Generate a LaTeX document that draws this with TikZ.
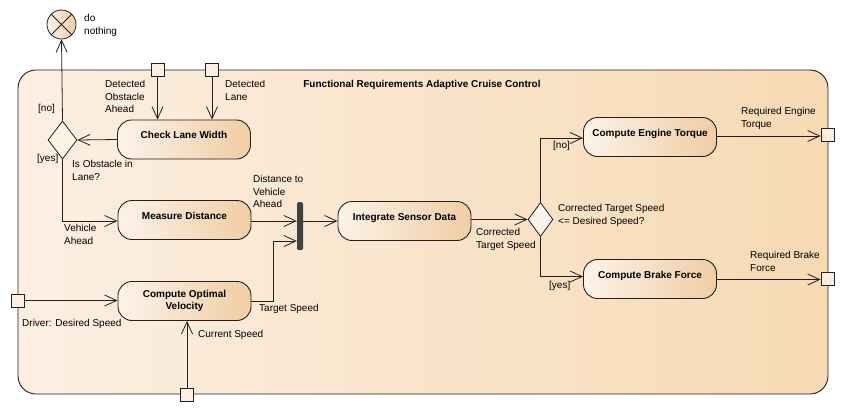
\documentclass[tikz,border=0pt]{standalone}
\usepackage{fontspec}
\setmainfont{Liberation Sans}
\usetikzlibrary{arrows.meta,shapes.geometric,positioning}
\definecolor{contL}{HTML}{FCEFE2}
\definecolor{contR}{HTML}{F7DAB4}
\definecolor{actL}{HTML}{FCF3E9}
\definecolor{actR}{HTML}{F0CDA4}
\definecolor{edge}{HTML}{202020}
\tikzset{
  lbl/.style={font=\fontsize{10}{12.6}\selectfont, align=left, inner sep=0pt, anchor=north west},
  act/.style={draw=edge, line width=0.9pt, rounded corners=14pt, left color=actL, right color=actR,
     minimum width=133pt, minimum height=39pt, align=center, font=\fontsize{10}{12.6}\selectfont\bfseries, inner sep=1pt},
  oneline/.style={text height=8pt, text depth=10pt},
  pin/.style={draw=edge, line width=0.8pt, fill=contL, minimum size=13pt, inner sep=0pt},
  dec/.style={draw=edge, line width=0.8pt, diamond, fill=actL, inner sep=0pt, minimum width=29pt, minimum height=38pt},
  flow/.style={draw=edge, line width=0.8pt, -{Straight Barb[length=12pt,width=11pt,line width=0.8pt]}},
}
\begin{document}
\begin{tikzpicture}[x=1pt,y=-1pt]
\useasboundingbox (0,0) rectangle (845,413);
\fill[white] (0,0) rectangle (845,413);
% container
\draw[draw=edge, line width=0.9pt, rounded corners=18pt, left color=contL, right color=contR] (18,70) rectangle (828,394);
\node[font=\fontsize{10}{12}\selectfont\bfseries, inner sep=0pt] (title) at (422,85) {Functional Requirements Adaptive Cruise Control};

% flow final
\node[draw=edge, line width=0.8pt, circle, minimum size=29pt, inner sep=0pt, left color=actL, right color=actR] (final) at (61.5,24.5) {};
\draw[edge, line width=0.8pt] (final.north west) -- (final.south east) (final.north east) -- (final.south west);
\node[lbl] (fl) at (84,14.5) {do\\nothing};

% actions
\node[act, oneline] (check) at (184,139.5) {Check Lane Width};
\node[act, oneline] (measure) at (184.5,220) {Measure Distance};
\node[act] (optimal) at (184.5,301) {Compute Optimal\\Velocity};
\node[act, oneline] (integrate) at (404.5,221) {Integrate Sensor Data};
\node[act, oneline] (torque) at (650,137) {Compute Engine Torque};
\node[act, oneline] (brake) at (650,279) {Compute Brake Force};

% decisions
\node[dec] (d1) at (62.5,140) {};
\node[dec, minimum width=25pt, minimum height=34pt] (d2) at (540.5,219.5) {};

% fork bar
\node[draw=none, fill=edge!85, rounded corners=1.5pt, minimum width=6pt, minimum height=48pt, inner sep=0pt] (bar) at (300,226) {};

% pins
\node[pin] (pinObs) at (157.5,70) {};
\node[pin] (pinLane) at (212,70) {};
\node[pin] (pinDriver) at (17.5,300.5) {};
\node[pin] (pinSpeed) at (187,395) {};
\node[pin] (pinTorque) at (827.5,135) {};
\node[pin] (pinBrake) at (827.5,279) {};

% flows
\draw[flow] (pinObs.south) -- (pinObs.south |- check.north);
\draw[flow] (pinLane.south) -- (pinLane.south |- check.north);
\draw[flow] (check.west) -- (d1.east);
\draw[flow] (d1.north) -- (final.south);
\coordinate (c1) at (62.5,221);
\draw[flow] (d1.south) -- (c1) -- (measure.west |- c1);
\draw[flow] (measure.east |- c1) -- (bar.west |- c1);
\coordinate (c2) at (273,301);
\coordinate (c3) at (273,241);
\draw[flow] (optimal.east |- c2) -- (c2) -- (c3) -- (bar.west |- c3);
\draw[flow] (bar.east |- c1) -- (integrate.west |- c1);
\draw[flow] (integrate.east |- d2.west) -- (d2.west);
\coordinate (c4) at (540.5,138);
\draw[flow] (d2.north) -- (c4) -- (torque.west |- c4);
\coordinate (c5) at (540.5,276.5);
\draw[flow] (d2.south) -- (c5) -- (brake.west |- c5);
\draw[flow] (pinDriver.east) -- (optimal.west |- pinDriver.east);
\draw[flow] (pinSpeed.north) -- (pinSpeed.north |- optimal.south);
\coordinate (c6) at (717,136);
\draw[flow] (torque.east |- c6) -- (pinTorque.west |- c6);
\coordinate (c7) at (717,279.5);
\draw[flow] (brake.east |- c7) -- (pinBrake.west |- c7);

% labels
\node[lbl] (lObs) at (105,80) {Detected\\Obstacle\\Ahead};
\node[lbl] (lLane) at (225,80) {Detected\\Lane};
\node[lbl] (lno1) at (38,104) {[no]};
\node[lbl] (lyes1) at (37,154) {[yes]};
\node[lbl] (lq1) at (72,160) {Is Obstacle in\\Lane?};
\node[lbl] (lveh) at (64,224) {Vehicle\\Ahead};
\node[lbl] (ldist) at (253,175) {Distance to\\Vehicle\\Ahead};
\node[lbl] (ltarget) at (259,304) {Target Speed};
\node[lbl] (lcur) at (198,330) {Current Speed};
\node[lbl] (ldrv) at (22,319) {Driver: Desired Speed};
\node[lbl] (lcts) at (476,228) {Corrected\\Target Speed};
\node[lbl] (lq2) at (558,204) {Corrected Target Speed\\<= Desired Speed?};
\node[lbl] (lno2) at (553,141) {[no]};
\node[lbl] (lyes2) at (549,281) {[yes]};
\node[lbl] (lret) at (741,107) {Required Engine\\Torque};
\node[lbl] (lrbf) at (750,251) {Required Brake\\Force};
\end{tikzpicture}
\end{document}
